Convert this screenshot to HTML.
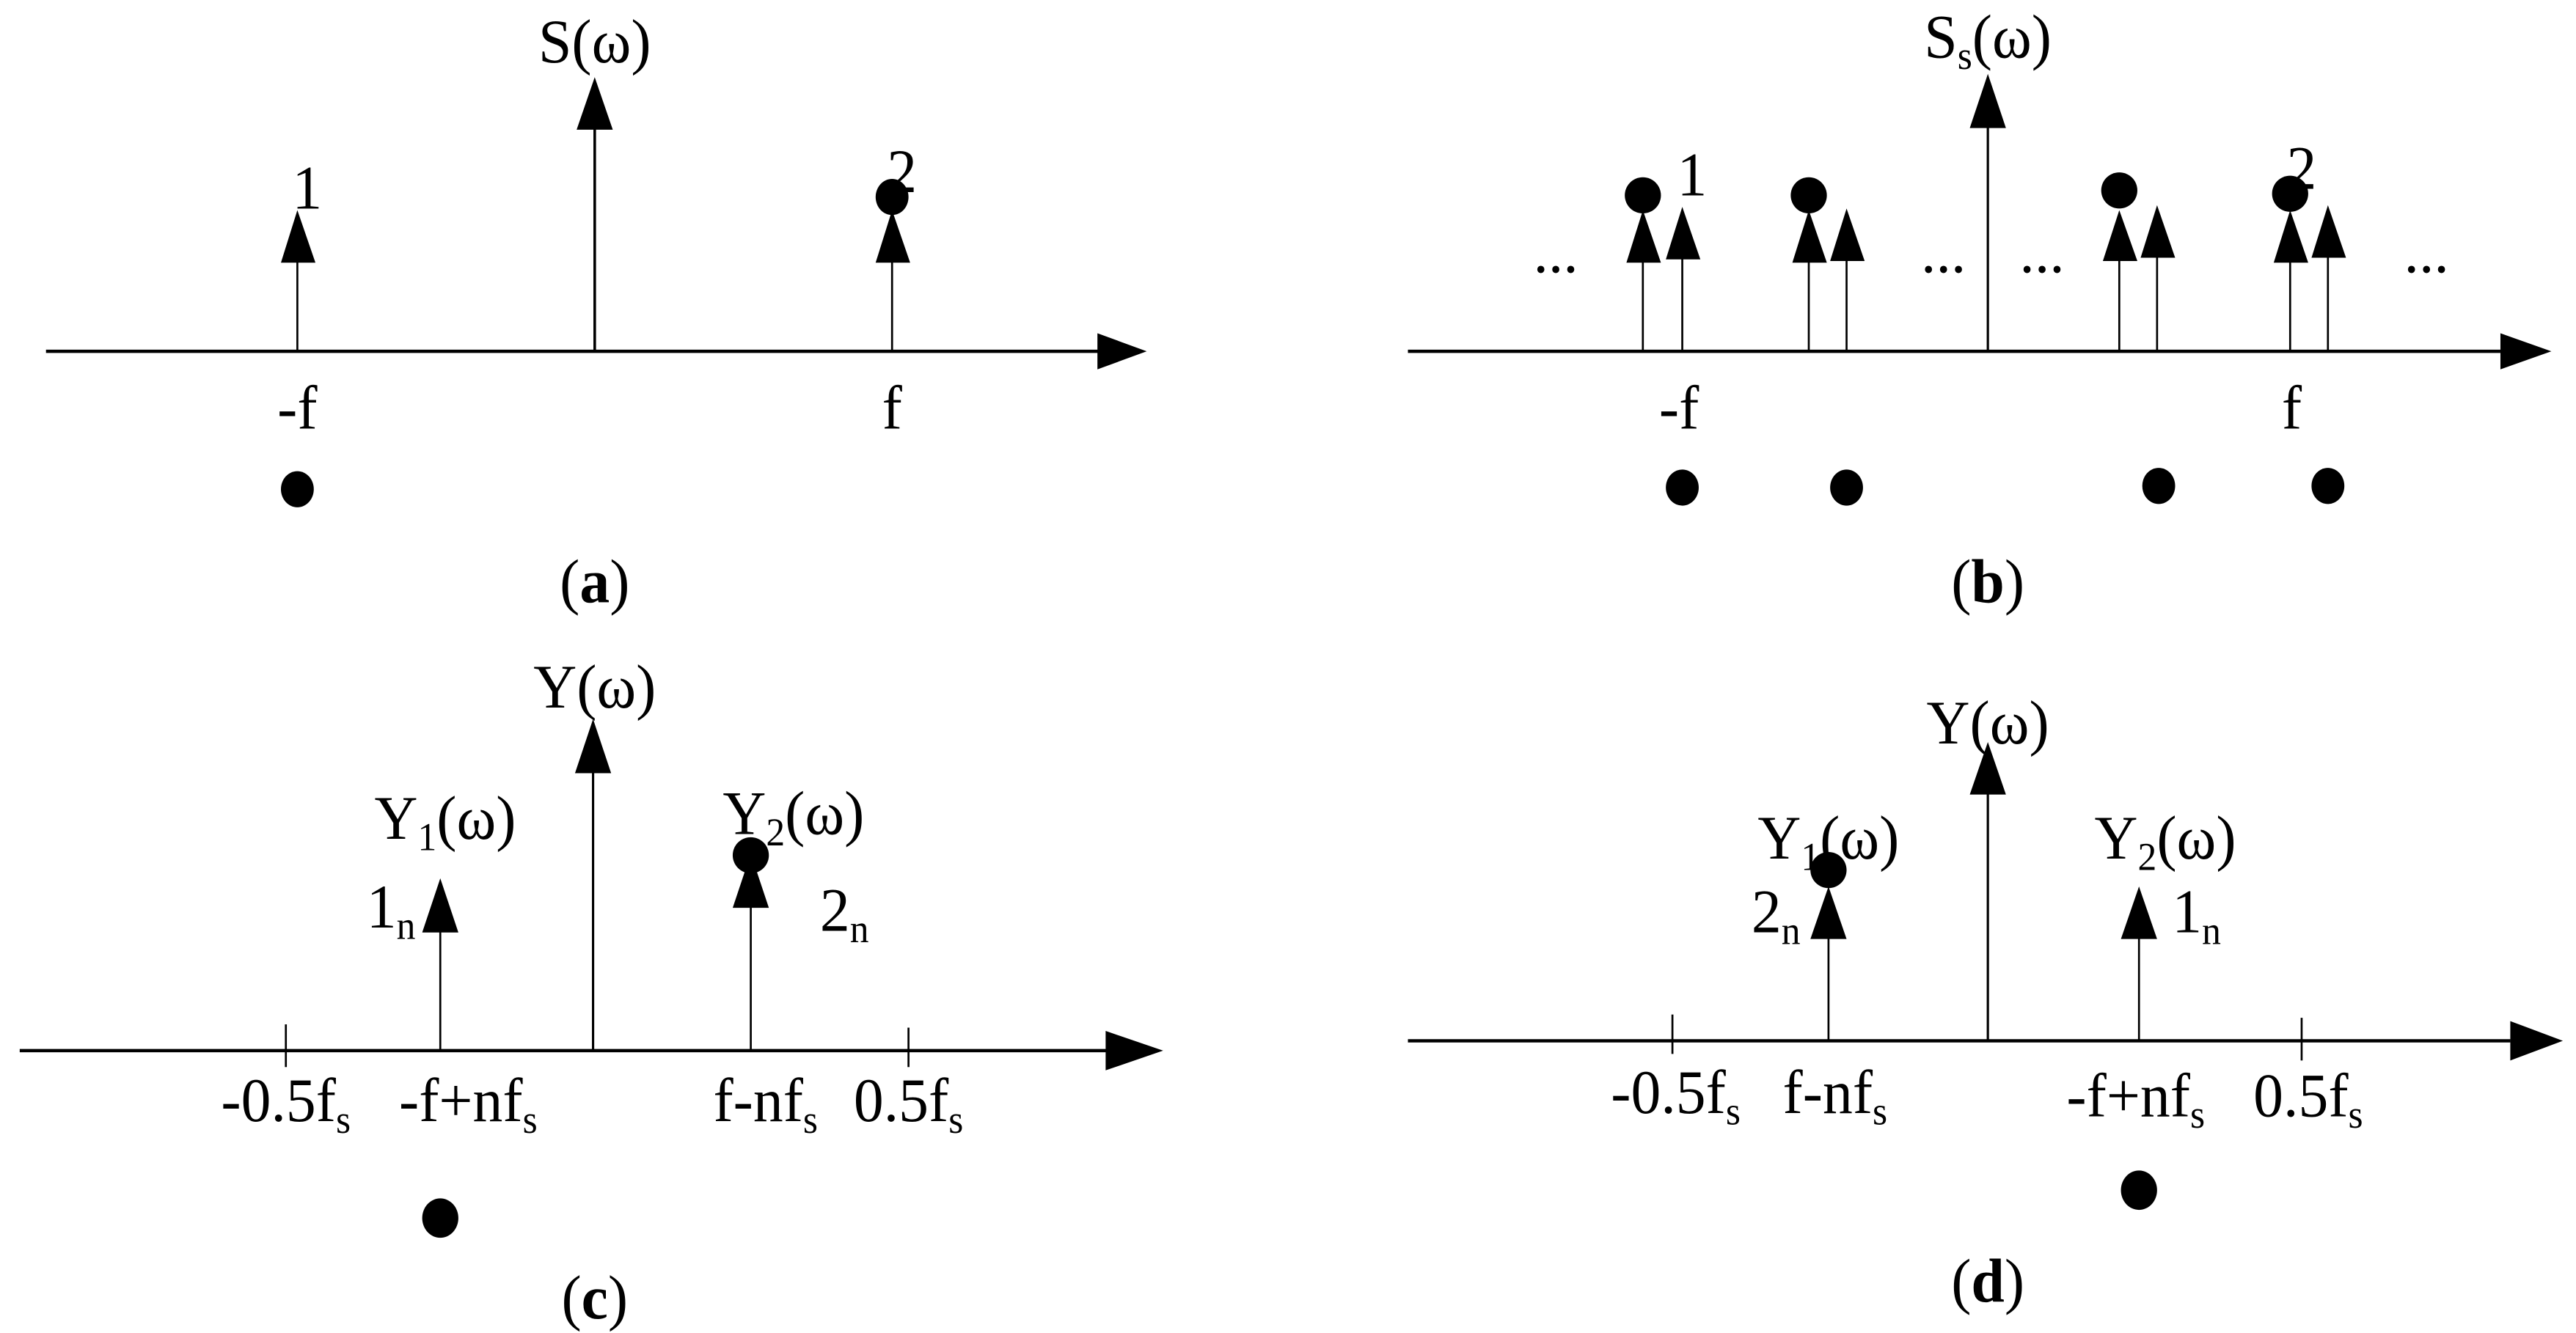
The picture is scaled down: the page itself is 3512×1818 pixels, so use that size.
<!DOCTYPE html>
<html><head><meta charset="utf-8"><style>
html,body{margin:0;padding:0;background:#fff;}
svg{display:block;}
text{font-family:"Liberation Serif",serif;fill:#000;transform-box:fill-box;transform-origin:center;transform:scaleX(.96);}
</style></head><body>
<svg width="3512" height="1818" viewBox="0 0 1568 812" preserveAspectRatio="none" xmlns="http://www.w3.org/2000/svg">
<g stroke="#000" fill="none">
<line x1="28" y1="214" x2="670" y2="214" stroke-width="2"/>
<line x1="362" y1="214" x2="362" y2="70" stroke-width="1.6"/>
<line x1="181" y1="214" x2="181" y2="150" stroke-width="1.2"/>
<line x1="543" y1="214" x2="543" y2="150" stroke-width="1.2"/>
<line x1="857" y1="214" x2="1522" y2="214" stroke-width="2"/>
<line x1="1210" y1="214" x2="1210" y2="70" stroke-width="1.4"/>
<line x1="1000" y1="214" x2="1000" y2="150" stroke-width="1.2"/>
<line x1="1024" y1="214" x2="1024" y2="150" stroke-width="1.2"/>
<line x1="1101" y1="214" x2="1101" y2="150" stroke-width="1.2"/>
<line x1="1124" y1="214" x2="1124" y2="150" stroke-width="1.2"/>
<line x1="1290" y1="214" x2="1290" y2="150" stroke-width="1.2"/>
<line x1="1313" y1="214" x2="1313" y2="150" stroke-width="1.2"/>
<line x1="1394" y1="214" x2="1394" y2="150" stroke-width="1.2"/>
<line x1="1417" y1="214" x2="1417" y2="150" stroke-width="1.2"/>
<line x1="12" y1="640" x2="674" y2="640" stroke-width="2"/>
<line x1="174" y1="624" x2="174" y2="650" stroke-width="1.2"/>
<line x1="553" y1="626" x2="553" y2="650" stroke-width="1.2"/>
<line x1="361" y1="640" x2="361" y2="460" stroke-width="1.4"/>
<line x1="268" y1="640" x2="268" y2="560" stroke-width="1.2"/>
<line x1="457" y1="640" x2="457" y2="545" stroke-width="1.2"/>
<line x1="857" y1="634" x2="1528" y2="634" stroke-width="2"/>
<line x1="1018" y1="618" x2="1018" y2="642" stroke-width="1.2"/>
<line x1="1401" y1="620" x2="1401" y2="646" stroke-width="1.2"/>
<line x1="1210" y1="634" x2="1210" y2="475" stroke-width="1.4"/>
<line x1="1113" y1="634" x2="1113" y2="565" stroke-width="1.2"/>
<line x1="1302" y1="634" x2="1302" y2="565" stroke-width="1.2"/>
</g>
<g fill="#000">
<polygon points="668,203 698,214 668,225"/>
<polygon points="1522,203 1553,214 1522,225"/>
<polygon points="673,628 708,640 673,652"/>
<polygon points="1528,622 1560,634 1528,646"/>
<polygon points="362,47 351,79 373,79"/>
<polygon points="181,128 171,160 192,160"/>
<polygon points="543,128 533,160 554,160"/>
<ellipse cx="543" cy="120" rx="10" ry="11"/>
<ellipse cx="181" cy="298" rx="10" ry="11"/>
<polygon points="1210,45 1199,78 1221,78"/>
<polygon points="1000,128 990,160 1011,160"/>
<polygon points="1024,126 1014,158 1035,158"/>
<polygon points="1101,128 1091,160 1112,160"/>
<polygon points="1124,127 1114,159 1135,159"/>
<polygon points="1290,128 1280,159 1301,159"/>
<polygon points="1313,125 1303,157 1324,157"/>
<polygon points="1394,128 1384,160 1405,160"/>
<polygon points="1417,125 1407,157 1428,157"/>
<ellipse cx="1000" cy="119" rx="11" ry="11"/>
<ellipse cx="1101" cy="119" rx="11" ry="11"/>
<ellipse cx="1290" cy="116" rx="11" ry="11"/>
<ellipse cx="1394" cy="118" rx="11" ry="11"/>
<ellipse cx="1024" cy="297" rx="10" ry="11"/>
<ellipse cx="1124" cy="297" rx="10" ry="11"/>
<ellipse cx="1314" cy="296" rx="10" ry="11"/>
<ellipse cx="1417" cy="296" rx="10" ry="11"/>
<polygon points="361,438 350,471 372,471"/>
<polygon points="268,535 257,568 279,568"/>
<polygon points="457,520 446,553 468,553"/>
<ellipse cx="457" cy="521" rx="11" ry="11"/>
<ellipse cx="268" cy="742" rx="11" ry="12"/>
<polygon points="1210,452 1199,484 1221,484"/>
<polygon points="1113,540 1102,572 1124,572"/>
<polygon points="1302,540 1291,572 1313,572"/>
<ellipse cx="1113" cy="530" rx="11" ry="11"/>
<ellipse cx="1302" cy="725" rx="11" ry="12"/>
</g>
<g font-size="38">
<text x="362" y="38" text-anchor="middle">S(ω)</text>
<text x="187" y="127" text-anchor="middle">1</text>
<text x="549" y="117" text-anchor="middle">2</text>
<text x="181" y="261" text-anchor="middle">-f</text>
<text x="543" y="261" text-anchor="middle">f</text>
<text x="362" y="367" text-anchor="middle">(<tspan font-weight="bold">a</tspan>)</text>
<text x="1210" y="35" text-anchor="middle">S<tspan font-size="24" dy="7">s</tspan><tspan dy="-7">(ω)</tspan></text>
<text x="1030" y="119" text-anchor="middle">1</text>
<text x="1401" y="115" text-anchor="middle">2</text>
<text x="947" y="166" text-anchor="middle">...</text>
<text x="1183" y="166" text-anchor="middle">...</text>
<text x="1243" y="166" text-anchor="middle">...</text>
<text x="1477" y="166" text-anchor="middle">...</text>
<text x="1022" y="261" text-anchor="middle">-f</text>
<text x="1395" y="261" text-anchor="middle">f</text>
<text x="1210" y="367" text-anchor="middle">(<tspan font-weight="bold">b</tspan>)</text>
<text x="362" y="431" text-anchor="middle">Y(ω)</text>
<text x="271" y="511" text-anchor="middle">Y<tspan font-size="24" dy="7">1</tspan><tspan dy="-7">(ω)</tspan></text>
<text x="483" y="508" text-anchor="middle">Y<tspan font-size="24" dy="7">2</tspan><tspan dy="-7">(ω)</tspan></text>
<text x="238" y="565" text-anchor="middle">1<tspan font-size="24" dy="7">n</tspan></text>
<text x="514" y="567" text-anchor="middle">2<tspan font-size="24" dy="7">n</tspan></text>
<text x="174" y="683" text-anchor="middle">-0.5f<tspan font-size="24" dy="7">s</tspan></text>
<text x="285" y="683" text-anchor="middle">-f+nf<tspan font-size="24" dy="7">s</tspan></text>
<text x="466" y="683" text-anchor="middle">f-nf<tspan font-size="24" dy="7">s</tspan></text>
<text x="553" y="683" text-anchor="middle">0.5f<tspan font-size="24" dy="7">s</tspan></text>
<text x="362" y="803" text-anchor="middle">(<tspan font-weight="bold">c</tspan>)</text>
<text x="1210" y="453" text-anchor="middle">Y(ω)</text>
<text x="1113" y="523" text-anchor="middle">Y<tspan font-size="24" dy="7">1</tspan><tspan dy="-7">(ω)</tspan></text>
<text x="1318" y="523" text-anchor="middle">Y<tspan font-size="24" dy="7">2</tspan><tspan dy="-7">(ω)</tspan></text>
<text x="1081" y="568" text-anchor="middle">2<tspan font-size="24" dy="7">n</tspan></text>
<text x="1337" y="568" text-anchor="middle">1<tspan font-size="24" dy="7">n</tspan></text>
<text x="1020" y="678" text-anchor="middle">-0.5f<tspan font-size="24" dy="7">s</tspan></text>
<text x="1117" y="678" text-anchor="middle">f-nf<tspan font-size="24" dy="7">s</tspan></text>
<text x="1300" y="680" text-anchor="middle">-f+nf<tspan font-size="24" dy="7">s</tspan></text>
<text x="1405" y="680" text-anchor="middle">0.5f<tspan font-size="24" dy="7">s</tspan></text>
<text x="1210" y="793" text-anchor="middle">(<tspan font-weight="bold">d</tspan>)</text>
</g>
</svg>
</body></html>
